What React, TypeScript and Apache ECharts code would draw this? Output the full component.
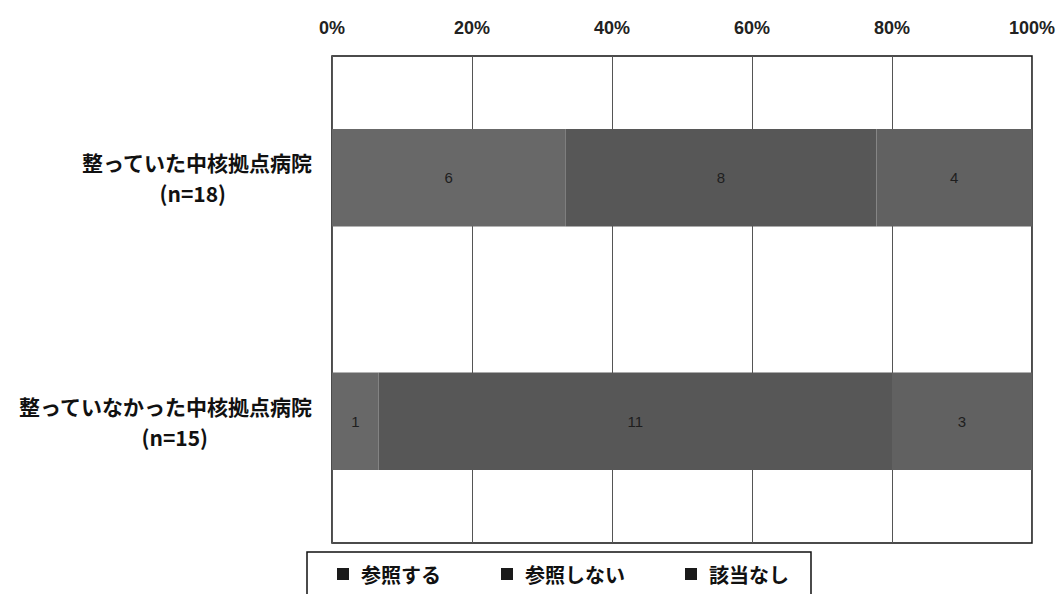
import React, { useEffect, useRef } from "react";
import * as echarts from "echarts";

const categories = ["整っていた中核拠点病院", "整っていなかった中核拠点病院"];
const sampleSizes = ["(n=18)", "(n=15)"];
const seriesNames = ["参照する", "参照しない", "該当なし"];
const refer = [6, 1];
const notRefer = [8, 11];
const notApplicable = [4, 3];
const tickLabels = ["0%", "20%", "40%", "60%", "80%", "100%"];
const seriesColors = ["#686868", "#575757", "#616161"];

export default function App() {
  const ref = useRef<HTMLDivElement>(null);
  useEffect(() => {
    document.body.style.margin = "0";
    const chart = echarts.init(ref.current!, null, { renderer: "svg" });
    const counts = [refer, notRefer, notApplicable];
    const totals = categories.map((_, i) => counts.reduce((s, arr) => s + arr[i], 0));
    const font = "'Noto Sans CJK JP', 'Noto Sans', sans-serif";
    const lbl = { fontSize: 21, fontWeight: "bold", color: "#111", lineHeight: 31, fontFamily: font, align: "right" };
    chart.setOption({
      animation: false,
      backgroundColor: "#ffffff",
      textStyle: { fontFamily: font },
      grid: {
        left: 332,
        right: 28,
        top: 56,
        bottom: 51,
        show: true,
        borderColor: "#111",
        borderWidth: 1.5,
        backgroundColor: "transparent",
      },
      legend: {
        data: seriesNames,
        left: 307,
        top: 552,
        icon: "rect",
        itemWidth: 12,
        itemHeight: 12,
        itemGap: 60,
        padding: [12, 22, 14, 30],
        borderColor: "#111",
        borderWidth: 1.5,
        backgroundColor: "#fff",
        itemStyle: { color: "#1a1a1a" },
        textStyle: { fontSize: 20, fontWeight: "bold", color: "#111", fontFamily: font, padding: [0, 0, 0, 7] },
      },
      xAxis: {
        type: "value",
        position: "top",
        min: 0,
        max: 100,
        interval: 20,
        axisLine: { show: false },
        axisTick: { show: false },
        splitLine: { show: true, lineStyle: { color: "#555", width: 1 } },
        axisLabel: {
          margin: 19,
          fontSize: 18,
          fontWeight: "bold",
          color: "#222",
          fontFamily: "'Liberation Sans Narrow', 'Liberation Sans', Arial, sans-serif",
          formatter: (v: number) => tickLabels[Math.round(v / 20)],
        },
      },
      yAxis: {
        type: "category",
        data: categories,
        inverse: true,
        axisLine: { show: false },
        axisTick: { show: false },
        axisLabel: {
          margin: 20,
          align: "right",
          formatter: (v: string, i: number) => `{a|${v}}\n{${i === 0 ? "b" : "c"}|${sampleSizes[i]}}`,
          rich: {
            a: lbl,
            b: { ...lbl, padding: [0, 86, 0, 0] },
            c: { ...lbl, padding: [0, 104, 0, 0] },
          },
        },
      },
      series: seriesNames.map((name, s) => ({
        name,
        type: "bar",
        stack: "total",
        barWidth: "40%",
        itemStyle: { color: seriesColors[s] },
        label: {
          show: true,
          position: "inside",
          color: "#1e1e1e",
          fontSize: 15,
          fontFamily: "'Liberation Sans Narrow', 'Liberation Sans', Arial, sans-serif",
          formatter: (p: any) => String(counts[s][p.dataIndex]),
        },
        data: counts[s].map((c, i) => (c / totals[i]) * 100),
      })),
    });
    return () => chart.dispose();
  }, []);
  return <div ref={ref} style={{ position: "fixed", left: 0, top: 0, width: 1060, height: 594 }} />;
}
